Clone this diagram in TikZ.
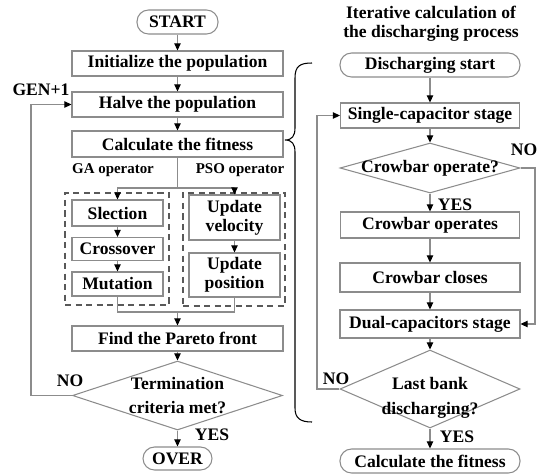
\documentclass[tikz,border=0pt]{standalone}
\usepackage{fontspec}
\setmainfont{Liberation Serif}
\usetikzlibrary{arrows.meta, shapes.geometric}

\begin{document}
\begin{tikzpicture}[x=0.02cm, y=-0.02cm,
        box/.style={draw=black!45, line width=0.6pt, font=\bfseries, inner sep=0pt, align=center},
        terminal/.style={box, rounded corners=0.23cm},
        decide/.style={draw=black!45, line width=0.6pt, diamond, inner sep=0pt},
        group/.style={draw=black!65, line width=0.8pt, dash pattern=on 3.5pt off 2.5pt, inner sep=0pt},
        tag/.style={font=\bfseries, inner sep=0pt},
        optag/.style={font=\fontsize{8.5}{10}\selectfont\bfseries, inner sep=0pt},
        line/.style={draw=black!45, line width=0.6pt},
        flow/.style={line, -{Triangle[length=4pt, width=3.6pt, color=black]}}]
        \useasboundingbox (0,0) rectangle (541,474);
        % main loop
        \node[terminal, minimum width=1.62cm, minimum height=0.48cm] (Start) at (177.5,22) {START};
        \node[box, minimum width=4.22cm, minimum height=0.5cm] (Init) at (177.5,63.5) {Initialize the population};
        \node[box, minimum width=4.22cm, minimum height=0.5cm] (Halve) at (177.5,104.5) {Halve the population};
        \node[box, minimum width=4.22cm, minimum height=0.52cm] (Fitness) at (177.5,144) {Calculate the fitness};
        \node[optag] (GA Tag) at (113,170) {GA operator};
        \node[optag] (PSO Tag) at (240,170) {PSO operator};
        \node[group, minimum width=2.08cm, minimum height=2.24cm] (GA Group) at (117,249) {};
        \node[group, minimum width=2.04cm, minimum height=2.26cm] (PSO Group) at (234,249.5) {};
        \node[box, minimum width=1.82cm, minimum height=0.52cm] (Selection) at (117.5,213) {Slection};
        \node[box, minimum width=1.82cm, minimum height=0.46cm] (Crossover) at (117.5,249) {Crossover};
        \node[box, minimum width=1.82cm, minimum height=0.48cm] (Mutation) at (117.5,284) {Mutation};
        \node[box, minimum width=1.82cm, minimum height=0.9cm] (Velocity) at (234.5,217.5) {Update\\[-1pt]velocity};
        \node[box, minimum width=1.82cm, minimum height=0.88cm] (Position) at (234.5,275) {Update\\[-1pt]position};
        \node[box, minimum width=4.22cm, minimum height=0.5cm] (Pareto) at (177.5,338.5) {Find the Pareto front};
        \node[decide, minimum width=4.2cm, minimum height=1.38cm,
            label={[tag, align=center]center:Termination\\[2pt]criteria met?}] (Termination) at (177.5,395.5) {};
        \node[terminal, minimum width=1.38cm, minimum height=0.46cm] (Over) at (177.5,458.5) {OVER};
        \node[tag] (Gen) at (41,90) {GEN+1};
        \node[tag] (Termination No) at (70,381) {NO};
        \node[tag] (Termination Yes) at (212,435) {YES};
        \coordinate (Split) at (177.5,188);
        \coordinate (Merge) at (177.5,312);
        \coordinate (Back) at (31,395.5);
        \draw[flow] (Start) -- (Init);
        \draw[flow] (Init) -- (Halve);
        \draw[flow] (Halve) -- (Fitness);
        \draw[line] (Fitness) -- (Split);
        \draw[flow] (Split) -| (Selection);
        \draw[flow] (Split) -| (Velocity);
        \draw[flow] (Selection) -- (Crossover);
        \draw[flow] (Crossover) -- (Mutation);
        \draw[flow] (Velocity) -- (Position);
        \draw[line] (Mutation.south) |- (Merge) -| (Position.south);
        \draw[flow] (Merge) -- (Pareto);
        \draw[flow] (Pareto) -- (Termination);
        \draw[flow] (Termination) -- (Over);
        \draw[flow] (Termination.west) -- (Back) |- (Halve.west);
        % discharging process
        \node[tag, align=center] (Title) at (431,24) {Iterative calculation of\\[-1pt]the discharging process};
        \node[terminal, minimum width=3.6cm, minimum height=0.48cm] (Discharge) at (430,65) {Discharging start};
        \node[box, minimum width=3.58cm, minimum height=0.5cm] (Single) at (430,115.5) {Single-capacitor stage};
        \node[decide, minimum width=3.6cm, minimum height=1.0cm,
            label={[tag]center:Crowbar operate?}] (Crowbar) at (430,168) {};
        \node[box, minimum width=3.58cm, minimum height=0.52cm] (Operates) at (430,225) {Crowbar operates};
        \node[box, minimum width=3.6cm, minimum height=0.58cm] (Closes) at (430,277.5) {Crowbar closes};
        \node[box, minimum width=3.6cm, minimum height=0.56cm] (Dual) at (430,324) {Dual-capacitors stage};
        \node[decide, minimum width=3.6cm, minimum height=1.56cm,
            label={[tag, align=center, yshift=-5pt]center:Last bank\\[2pt]discharging?}] (Last) at (430,389) {};
        \node[terminal, minimum width=3.6cm, minimum height=0.48cm] (End Fitness) at (430,461) {Calculate the fitness};
        \node[tag] (Crowbar No) at (524,150) {NO};
        \node[tag] (Crowbar Yes) at (455,205) {YES};
        \node[tag] (Last No) at (336,379) {NO};
        \node[tag] (Last Yes) at (457,437) {YES};
        \coordinate (Bypass) at (535,168);
        \coordinate (Repeat) at (317,389);
        \draw[flow] (Discharge) -- (Single);
        \draw[flow] (Single) -- (Crowbar);
        \draw[flow] (Crowbar) -- (Operates);
        \draw[flow] (Operates) -- (Closes);
        \draw[flow] (Closes) -- (Dual);
        \draw[flow] (Dual) -- (Last);
        \draw[flow] (Last) -- (End Fitness);
        \draw[flow] (Crowbar.east) -- (Bypass) |- (Dual.east);
        \draw[flow] (Last.west) -- (Repeat) |- (Single.west);
        % brace
        \draw[line width=0.6pt] (312,63) .. controls (300,63) and (295,66) .. (295,78) -- (295,128)
            .. controls (295,136) and (292,140) .. (285,140) .. controls (292,140) and (295,144) .. (295,152)
            -- (295,408) .. controls (295,418) and (300,422) .. (312,422);
    \end{tikzpicture}
\end{document}
